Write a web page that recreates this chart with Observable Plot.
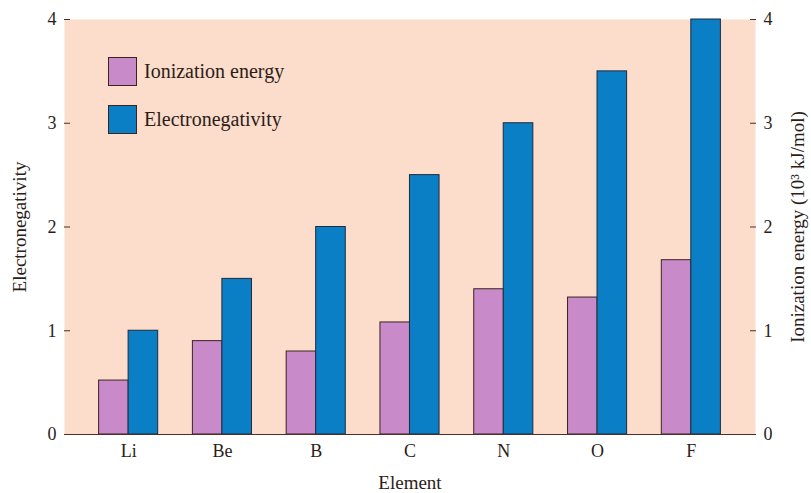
<!DOCTYPE html>
<html>
<head>
<meta charset="utf-8">
<script src="https://cdn.jsdelivr.net/npm/d3@7"></script>
<script src="https://cdn.jsdelivr.net/npm/@observablehq/plot@0.6"></script>
<style>
  body { margin: 0; background: #fff; }
  #chart { position: relative; width: 811px; height: 493px; font-family: "Liberation Serif", "DejaVu Serif", serif; }
  #legend { position: absolute; left: 108px; top: 57px; color: #2b1d18; font-size: 20px; }
  .item { display: flex; align-items: center; height: 29px; margin-bottom: 19px; }
  .sw { width: 27px; height: 27px; border: 1px solid #3a2420; margin-right: 7px; }
</style>
</head>
<body>
<div id="chart"></div>
<script>
const elements = ["Li", "Be", "B", "C", "N", "O", "F"];
const ionizationEnergy = [0.52, 0.90, 0.80, 1.08, 1.40, 1.32, 1.68];
const electronegativity = [1.0, 1.5, 2.0, 2.5, 3.0, 3.5, 4.0];
const seriesNames = ["Ionization energy", "Electronegativity"];
const seriesColors = ["#c98ac9", "#0a7fc6"];
const yTicks = [0, 1, 2, 3, 4];

const data = elements.map((e, i) => ({element: e, ie: ionizationEnergy[i], en: electronegativity[i]}));
const ink = "#2b1d18";
const lineColor = "#4a3028";

const plot = Plot.plot({
  width: 811,
  height: 493,
  marginLeft: 64,
  marginRight: 56,
  marginTop: 19,
  marginBottom: 59,
  style: {fontFamily: "Liberation Serif, DejaVu Serif, serif", fontSize: "18px", color: ink, background: "transparent"},
  x: {domain: elements, paddingInner: 0.37, paddingOuter: 0.369, round: false},
  y: {domain: [0, 4]},
  marks: [
    Plot.frame({fill: "#fcdccb", stroke: null}),
    Plot.barY(data, {x: "element", y: "ie", fill: seriesColors[0], stroke: "#3a2420", strokeWidth: 1, insetRight: 29.5}),
    Plot.barY(data, {x: "element", y: "en", fill: seriesColors[1], stroke: "#1f2a3a", strokeWidth: 1, insetLeft: 29.5}),
    Plot.ruleY([0], {stroke: lineColor, strokeWidth: 1.2}),
    Plot.axisY(yTicks, {anchor: "left", tickSize: -6, tickPadding: 14, stroke: lineColor, line: true, tickFormat: d3.format("d"),
      label: "Electronegativity", labelAnchor: "center", labelOffset: 52, labelArrow: false, fontSize: 18}),
    Plot.axisY(yTicks, {anchor: "right", tickSize: -6, tickPadding: 14, stroke: lineColor, line: true, tickFormat: d3.format("d"),
      label: "Ionization energy (10³ kJ/mol)", labelAnchor: "center", labelOffset: 48, labelArrow: false, fontSize: 18}),
    Plot.axisX({tickSize: 0, tickPadding: 10, label: "Element", labelAnchor: "center", labelOffset: 54, labelArrow: false, fontSize: 18})
  ]
});

// axis titles are set slightly larger than tick labels, as in the reference
d3.select(plot).selectAll('[aria-label$="axis label"] text').attr("font-size", 19);
d3.select(plot).selectAll('[aria-label$="axis label"]').attr("font-size", 19);

const chart = document.getElementById("chart");
chart.appendChild(plot);

const legend = document.createElement("div");
legend.id = "legend";
seriesNames.forEach((name, i) => {
  const item = document.createElement("div");
  item.className = "item";
  const sw = document.createElement("div");
  sw.className = "sw";
  sw.style.background = seriesColors[i];
  const label = document.createElement("span");
  label.textContent = name;
  item.appendChild(sw);
  item.appendChild(label);
  legend.appendChild(item);
});
chart.appendChild(legend);
</script>
</body>
</html>
